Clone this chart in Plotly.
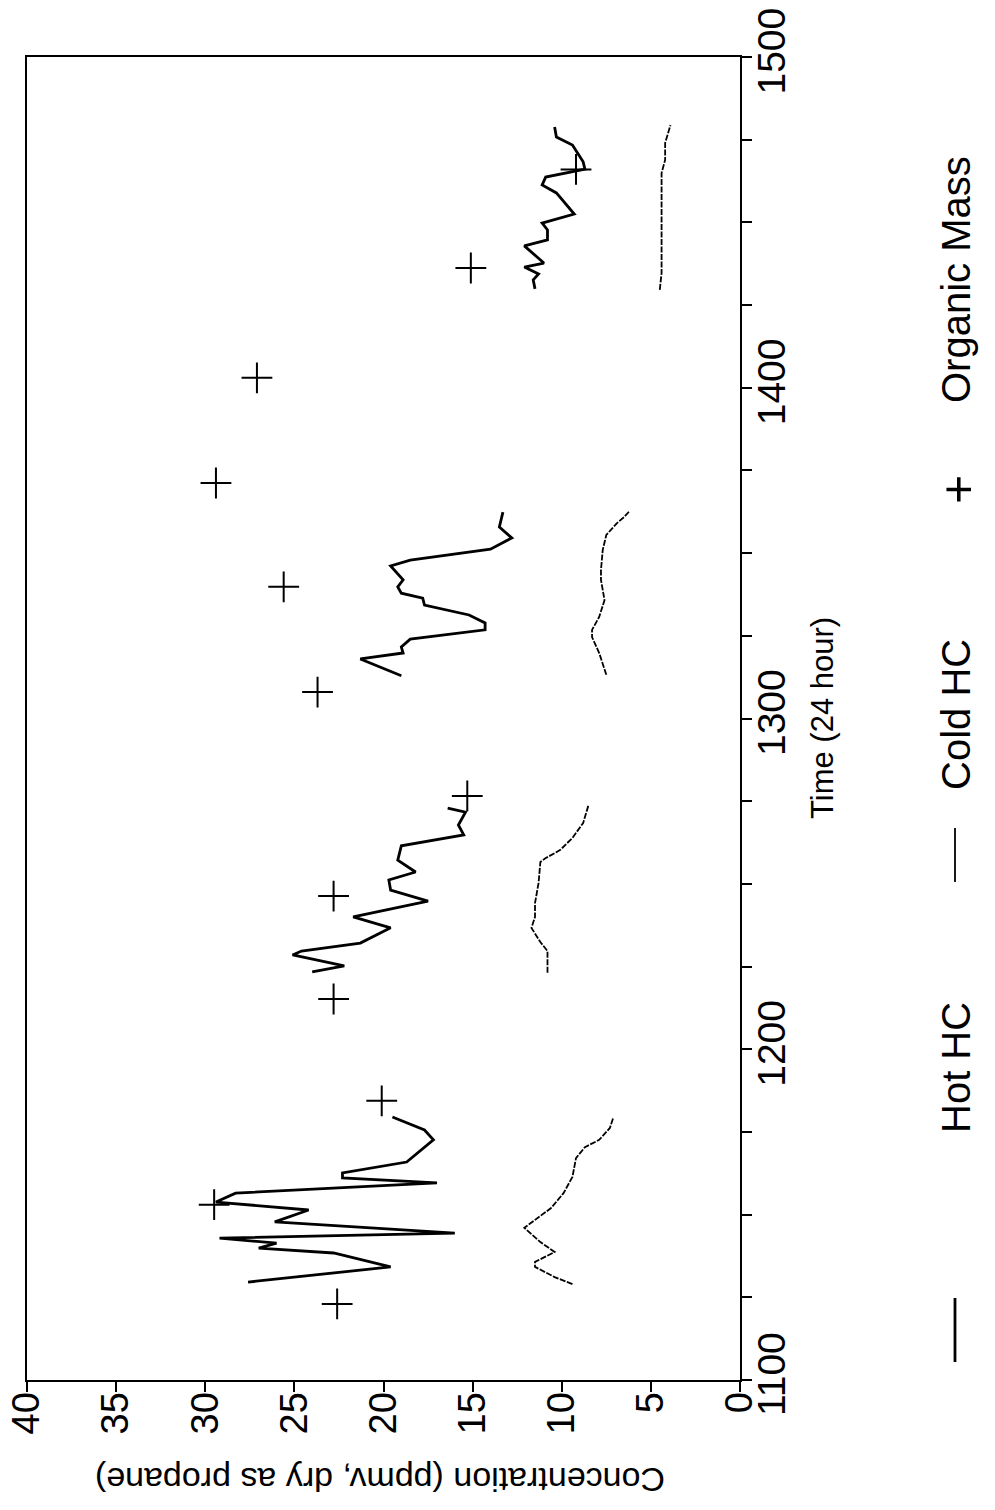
import plotly.graph_objects as go

# ---- Data (concentration in ppmv, time in 24-hour clock) ----
hot_t1 = [1129.6, 1134.2, 1138.4, 1139.9, 1141.4, 1142.9, 1144.4, 1147.8, 1151.4, 1153.8,
          1156.5, 1159.6, 1161.1, 1162.6, 1165.9, 1172.6, 1175.6, 1179.5]
hot_c1 = [27.6, 19.6, 22.8, 27.0, 26.0, 29.2, 16.0, 26.1, 24.2, 29.4,
          28.3, 17.0, 22.3, 22.3, 18.7, 17.2, 17.7, 19.5]
hot_t2 = [1223.4, 1225.2, 1228.5, 1229.7, 1232.1, 1236.7, 1240.0, 1244.8, 1248.1, 1251.2,
          1253.6, 1257.2, 1261.5, 1264.8, 1267.8, 1271.7, 1272.9]
hot_c2 = [24.0, 22.2, 25.1, 24.6, 21.3, 19.6, 21.7, 17.5, 19.6, 19.7,
          18.2, 19.2, 19.0, 15.5, 15.8, 15.4, 16.4]
hot_t3 = [1312.9, 1318.0, 1319.8, 1321.6, 1324.0, 1326.8, 1328.9, 1331.3, 1334.3, 1336.4,
          1337.9, 1339.8, 1341.9, 1346.1, 1347.9, 1351.2, 1354.6, 1357.9, 1362.4]
hot_c3 = [19.0, 21.3, 18.9, 19.0, 18.5, 14.3, 14.3, 15.2, 17.7, 17.8,
          19.0, 19.2, 18.9, 19.6, 18.5, 14.0, 12.8, 13.5, 13.3]
hot_t4 = [1429.9, 1432.6, 1434.4, 1436.5, 1437.7, 1440.1, 1442.9, 1444.7, 1447.7, 1449.8,
          1452.5, 1458.9, 1461.3, 1463.7, 1466.1, 1468.3, 1473.4, 1475.8, 1478.8]
hot_c4 = [11.5, 11.6, 11.3, 12.1, 11.0, 11.5, 12.1, 10.8, 10.8, 11.1,
          9.3, 10.3, 11.1, 10.9, 8.7, 8.8, 9.4, 10.3, 10.4]

cold_t1 = [1129.0, 1131.1, 1134.2, 1135.7, 1138.7, 1141.7, 1146.0, 1148.4, 1152.0, 1156.5,
           1161.4, 1167.1, 1170.4, 1172.6, 1176.2, 1179.5]
cold_c1 = [9.4, 10.4, 11.5, 11.5, 10.4, 11.2, 12.1, 11.5, 10.6, 9.9,
           9.4, 9.2, 8.7, 7.9, 7.3, 7.1]
cold_t2 = [1223.1, 1229.7, 1232.4, 1236.7, 1240.0, 1244.2, 1250.3, 1256.6, 1257.8, 1260.2,
           1263.9, 1268.4, 1273.8]
cold_c2 = [10.8, 10.8, 11.2, 11.7, 11.5, 11.5, 11.3, 11.2, 10.9, 10.1,
           9.4, 8.8, 8.5]
cold_t3 = [1313.2, 1319.8, 1324.6, 1326.8, 1330.7, 1335.8, 1341.9, 1344.9, 1351.0, 1355.5,
           1359.1, 1360.9, 1362.7]
cold_c3 = [7.5, 7.9, 8.3, 8.3, 7.9, 7.6, 7.8, 7.8, 7.7, 7.5,
           6.9, 6.5, 6.2]
cold_t4 = [1429.6, 1434.7, 1440.7, 1450.7, 1458.9, 1464.9, 1468.9, 1474.0, 1479.4]
cold_c4 = [4.5, 4.4, 4.4, 4.4, 4.4, 4.4, 4.2, 4.2, 3.9]

om_t = [1123.0, 1153.0, 1184.4, 1215.2, 1246.3, 1276.6, 1308.0, 1339.8, 1371.2, 1403.0, 1436.2, 1466.0]
om_c = [22.6, 29.5, 20.1, 22.8, 22.8, 15.3, 23.7, 25.6, 29.4, 27.1, 15.1, 9.2]

conc_ticks = [0, 5, 10, 15, 20, 25, 30, 35, 40]
time_ticks = [1100, 1200, 1300, 1400, 1500]
legend_labels = ["Hot HC", "Cold HC", "Organic Mass"]


def join(*segs):
    out = []
    for i, s in enumerate(segs):
        if i:
            out.append(None)
        out.extend(s)
    return out


FONT = "Liberation Sans, Arial, Helvetica, sans-serif"

fig = go.Figure()
fig.add_trace(go.Scatter(
    x=join(hot_c1, hot_c2, hot_c3, hot_c4), y=join(hot_t1, hot_t2, hot_t3, hot_t4),
    mode="lines", line=dict(color="black", width=2.8), name=legend_labels[0],
    connectgaps=False))
fig.add_trace(go.Scatter(
    x=join(cold_c1, cold_c2, cold_c3, cold_c4), y=join(cold_t1, cold_t2, cold_t3, cold_t4),
    mode="lines", line=dict(color="black", width=1.8, dash="6px,1.5px"), name=legend_labels[1],
    connectgaps=False))
fig.add_trace(go.Scatter(
    x=om_c, y=om_t, mode="markers", name=legend_labels[2],
    marker=dict(symbol="cross-thin", size=22, line=dict(color="black", width=2))))

fig.update_layout(
    width=995, height=1510,
    margin=dict(l=27, r=255, t=57, b=130),
    paper_bgcolor="white", plot_bgcolor="white",
    showlegend=False,
    font=dict(family=FONT, color="black"),
    xaxis=dict(
        range=[40, 0], tickvals=conc_ticks, ticktext=[str(v) for v in conc_ticks],
        tickangle=-90, ticks="outside", ticklen=10, tickwidth=1.5, tickcolor="black",
        tickfont=dict(size=38, family=FONT), automargin=False, ticklabelstandoff=-15,
        ticklabeloverflow="allow",
        showline=True, linecolor="black", linewidth=2, mirror=True,
        showgrid=False, zeroline=False),
    yaxis=dict(
        range=[1100, 1500], side="right", tickvals=time_ticks,
        ticktext=[str(v) for v in time_ticks], automargin=False, ticklabelstandoff=-14,
        ticklabeloverflow="allow",
        tickangle=-90, ticks="outside", ticklen=10, tickwidth=1.5, tickcolor="black",
        tickfont=dict(size=39, family=FONT),
        minor=dict(dtick=25, ticks="outside", ticklen=10, tickwidth=1.5, tickcolor="black",
                   showgrid=False),
        showline=True, linecolor="black", linewidth=2, mirror=True,
        showgrid=False, zeroline=False),
)

# plot area spans x 27..740 and y 57..1380 of the page
def px_x(px):
    return (px - 27) / 713.0


def px_y(py):
    return (1380 - py) / 1323.0


# axis titles (rotated like the reference)
fig.add_annotation(text="Time (24 hour)", xref="paper", yref="paper",
                   x=px_x(822), y=px_y(718), textangle=-90, showarrow=False,
                   font=dict(size=31, family=FONT), xanchor="center", yanchor="middle")
fig.add_annotation(text="Concentration (ppmv, dry as propane)", xref="paper", yref="paper",
                   x=px_x(380), y=px_y(1480), textangle=180, showarrow=False,
                   font=dict(size=34, family=FONT), xanchor="center", yanchor="middle")

# legend drawn rotated to match the reference
fig.add_shape(type="line", xref="paper", yref="paper",
              x0=px_x(955), x1=px_x(955), y0=px_y(1298), y1=px_y(1362),
              line=dict(color="black", width=2.8))
fig.add_shape(type="line", xref="paper", yref="paper",
              x0=px_x(955), x1=px_x(955), y0=px_y(828), y1=px_y(882),
              line=dict(color="black", width=1.8))
fig.add_annotation(text="+", xref="paper", yref="paper", x=px_x(958), y=px_y(490),
                   textangle=-90, showarrow=False, font=dict(size=50, family=FONT),
                   xanchor="center", yanchor="middle")
for label, py in zip(legend_labels, [1068, 715, 280]):
    fig.add_annotation(text=label, xref="paper", yref="paper", x=px_x(956), y=px_y(py),
                       textangle=-90, showarrow=False, font=dict(size=40, family=FONT),
                       xanchor="center", yanchor="middle")

fig.write_html("out.html", config={"displayModeBar": False},
               post_script="document.body.style.margin='0';document.body.style.padding='0';")
